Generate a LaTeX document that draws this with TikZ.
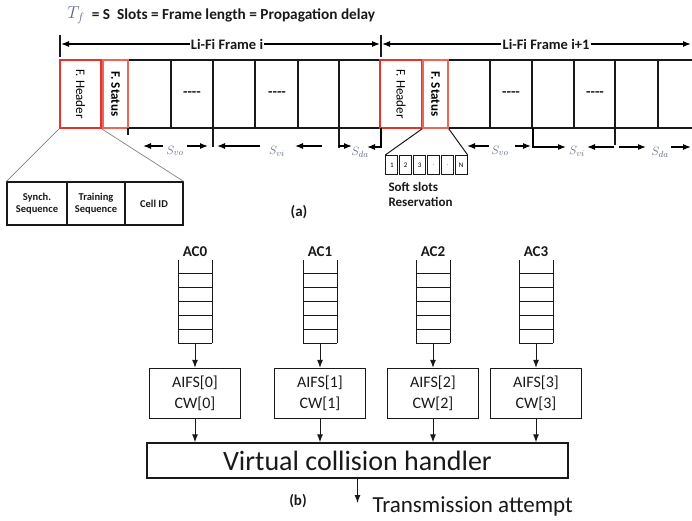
\documentclass[tikz,border=0pt]{standalone}
\usepackage{fontspec}
\usepackage{graphicx}
\setsansfont{Carlito}
\usetikzlibrary{arrows.meta}
\definecolor{hred}{RGB}{228,52,42}
\definecolor{sred}{RGB}{236,100,90}
\definecolor{sgray}{RGB}{96,106,128}
\definecolor{ink}{RGB}{25,25,25}
\newcommand{\fsz}[2]{\fontsize{#1}{#2}\selectfont}
\tikzset{
 >={Latex[length=8pt,width=6pt]},
 bl/.style={text=ink,font=\sffamily\bfseries\fsz{14.5}{16}},
 slot/.style={draw=ink,line width=1.4pt},
 hbox/.style={draw=hred,line width=2.4pt,inner sep=0pt},
 sbox/.style={draw=sred,line width=1.4pt,inner sep=0pt},
 slab/.style={text=sgray,font=\fsz{13}{14}},
 cell/.style={draw=ink,line width=1.2pt,minimum height=43pt,inner sep=0pt,align=center,text=ink,font=\sffamily\bfseries\fsz{10.5}{12}},
 rcell/.style={draw=ink,line width=1.1pt,minimum width=12pt,minimum height=19pt,inner sep=0pt,font=\sffamily\fsz{7}{8}},
 wbox/.style={draw=ink,line width=1.3pt,minimum width=91pt,minimum height=50pt,inner sep=0pt,align=center,text=ink,font=\sffamily\fsz{16}{21}},
}
\begin{document}
\begin{tikzpicture}[x=1pt,y=-1pt]
\useasboundingbox (0,0) rectangle (692,521);

\node[text=sgray,font=\fsz{18}{18}] (T) at (76,15) {$T_f$};
\node[bl,font=\sffamily\bfseries\fsz{15.3}{18},anchor=west] (TL) at (T.east) {= S\ \ Slots = Frame length = Propagation delay};

\draw[slot] (128,60)--(692,60);
\draw[slot] (128,128)--(692,128);
\foreach \a in {128,171,213,255,298,339,448,490,532,574,615,658}
  \draw[slot] (\a,60)--(\a,128);
\foreach \a in {192,277,511,595}
  \node[bl] (d\a) at (\a,94) {-{}-{}-{}-};

\node[hbox,minimum width=41pt,minimum height=68pt] (H1) at (80.5,94) {\rotatebox{-90}{\sffamily\fsz{13}{13}F. Header}};
\node[sbox,minimum width=25pt,minimum height=68pt] (S1) at (115.5,94) {\rotatebox{-90}{\sffamily\bfseries\fsz{13}{13}F. Status}};
\node[hbox,minimum width=42pt,minimum height=68pt] (H2) at (401,94) {\rotatebox{-90}{\sffamily\fsz{13}{13}F. Header}};
\node[sbox,minimum width=25pt,minimum height=68pt] (S2) at (435.5,94) {\rotatebox{-90}{\sffamily\bfseries\fsz{13}{13}F. Status}};

\draw[slot] (60,35)--(60,57);
\draw[slot] (381,35)--(381,57);
\node[bl,fill=white,inner sep=1pt] (F1) at (227,44) {Li-Fi Frame i};
\node[bl,fill=white,inner sep=1pt] (F2) at (546,44) {Li-Fi Frame i+1};
\coordinate (L1) at (61,44);
\coordinate (R1) at (380,44);
\coordinate (L2) at (382,44);
\coordinate (R2) at (691,44);
\draw[->,line width=1.2pt] (F1)--(L1);
\draw[->,line width=1.2pt] (F1)--(R1);
\draw[->,line width=1.2pt] (F2)--(L2);
\draw[->,line width=1.2pt] (F2)--(R2);

\node[slab] (V1) at (175,151) {$S_{vo}$};
\node[slab] (I1) at (277,151) {$S_{vi}$};
\node[slab] (D1) at (360,152) {$S_{da}$};
\node[slab] (V2) at (500,151) {$S_{vo}$};
\node[slab] (I2) at (577,151) {$S_{vi}$};
\node[slab] (D2) at (660,152) {$S_{da}$};
\draw[slot] (128,128)--(128,135);
\draw[slot] (213,128)--(213,147);
\draw[slot] (339,128)--(339,148);
\draw[slot] (615,128)--(615,145);
\draw[->,line width=1.2pt] (163,146)--(143,146);
\draw[->,line width=1.2pt] (187,146)--(208,146);
\draw[->,line width=1.2pt] (260,146)--(217,146);
\draw[->,line width=1.2pt] (322,146)--(295,146);
\draw[->,line width=1.2pt] (339,146)--(352,146);
\draw[->,line width=1.2pt] (381,128)--(381,147)--(367,147);
\draw[->,line width=1.2pt] (489,146)--(467,146);
\draw[->,line width=1.2pt] (515,146)--(531,146);
\draw[->,line width=1.2pt] (533,128)--(533,147)--(566,147);
\draw[->,line width=1.2pt] (614,147)--(587,147);
\draw[->,line width=1.2pt] (619,147)--(646,147);
\draw[->,line width=1.2pt] (671,147)--(691,147);

\node[cell,minimum width=60pt] (C1) at (37,203.5) {Synch.\\Sequence};
\node[cell,minimum width=58pt] (C2) at (96,203.5) {Training\\Sequence};
\node[cell,minimum width=58pt] (C3) at (154,203.5) {Cell ID};
\draw[gray,line width=0.7pt] (H1.south west)--(C1.north west);
\draw[gray,line width=0.7pt] (H1.south east)--(C3.north east);

\foreach \t [count=\k] in {1,2,3,$\cdot$,$\cdot$,N}
  \node[rcell] (Q\k) at ({385+13.83*(\k-0.5)},165) {\t};
\draw[ink,line width=1pt] (S2.south west)--(Q1.north west);
\draw[ink,line width=1pt] (S2.south east)--(Q6.north east);
\node[bl,font=\sffamily\bfseries\fsz{13}{15},align=left,anchor=north west] (SS) at (385,179) {Soft slots\\Reservation};
\node[bl,font=\sffamily\bfseries\fsz{15}{17}] (A) at (299,212) {(a)};

\foreach \q/\x in {0/195,1/320,2/433,3/536}{
  \node[bl,font=\sffamily\bfseries\fsz{15}{17}] (AC\q) at (\x,252) {AC\q};
  \draw[ink,line width=1pt] (\x-17,260)--(\x-17,343);
  \draw[ink,line width=1pt] (\x+17,260)--(\x+17,343);
  \foreach \h in {273,287,301,315,329,343}
    \draw[ink,line width=1pt] (\x-17,\h)--(\x+17,\h);
  \coordinate (B\q) at (\x,343);
  \node[wbox] (W\q) at (\x,393.5) {AIFS[\q]\\CW[\q]};
  \draw[->,ink,line width=1pt] (B\q)--(W\q);
}
\node[draw=ink,line width=1.3pt,minimum width=421pt,minimum height=35pt,inner sep=0pt,text=ink,font=\sffamily\fsz{28}{30}] (V) at (357.5,460.5) {Virtual collision handler};
\foreach \q in {0,1,2,3}
  \draw[->,ink,line width=1pt] (W\q.south)--(W\q.south|-V.north);
\coordinate (E) at (357.5,503);
\draw[->,ink,line width=1pt] (V.south)--(E);
\node[text=ink,font=\sffamily\fsz{23}{25},anchor=base west] (X) at (369,512) {Transmission attempt};
\node[bl,font=\sffamily\bfseries\fsz{15}{17}] (B) at (298,501) {(b)};
\end{tikzpicture}
\end{document}
